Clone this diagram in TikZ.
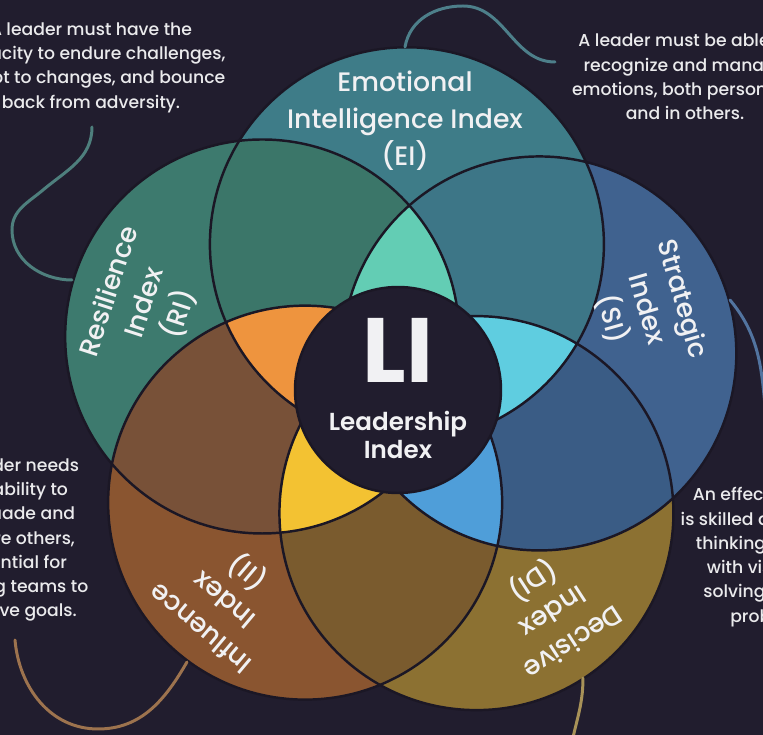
\documentclass[tikz,border=0pt]{standalone}
\usepackage{fontspec}
\setmainfont{Poppins}
\newfontfamily\medfont{Poppins Medium}
\newfontfamily\semifont{Poppins SemiBold}
\usetikzlibrary{positioning}

\definecolor{night}{HTML}{211D2E}
\definecolor{rim}{HTML}{1B1725}
\definecolor{ink}{HTML}{F1F1F3}
% one colour per ring
\definecolor{eiBase}{HTML}{3E7C88}
\definecolor{riBase}{HTML}{3D7A6E}
\definecolor{siBase}{HTML}{40628F}
\definecolor{diBase}{HTML}{8C7132}
\definecolor{iiBase}{HTML}{8A5530}
% neighbouring pairs
\definecolor{riEi}{HTML}{3B7669}
\definecolor{eiSi}{HTML}{3D7687}
\definecolor{siDi}{HTML}{3A5C85}
\definecolor{diIi}{HTML}{7A5B2E}
\definecolor{iiRi}{HTML}{785138}
% petals round the core
\definecolor{eiCore}{HTML}{63CDB4}
\definecolor{siCore}{HTML}{5FCDE0}
\definecolor{diCore}{HTML}{4F9ED9}
\definecolor{iiCore}{HTML}{F3C232}
\definecolor{riCore}{HTML}{EE943E}
% tails
\definecolor{riTail}{HTML}{4E7F7D}
\definecolor{eiTail}{HTML}{4D7F8A}
\definecolor{siTail}{HTML}{5274A0}
\definecolor{iiTail}{HTML}{9D734E}
\definecolor{diTail}{HTML}{A89258}

\def\rr{3.94}

\tikzset{
  rimline/.style={draw=rim, line width=1.4pt},
  ringlabel/.style={text=ink, align=center, inner sep=0pt,
    font=\medfont\fontsize{15.2}{21}\selectfont},
  note/.style={text=ink!94!gray, align=center, inner sep=0pt,
    font=\medfont\fontsize{9.8}{13.8}\selectfont},
  tail/.style={line width=1.7pt, line cap=round},
}

\begin{document}
\begin{tikzpicture}
  % Background
  \fill[night] (-7.96,-6.9) rectangle (7.30,7.80);
  \clip (-7.96,-6.9) rectangle (7.30,7.80);
  % Ring centres
  \coordinate (ei) at (86.5:2.92);
  \coordinate (si) at (14.5:2.92);
  \coordinate (di) at (-57.5:2.92);
  \coordinate (ii) at (-129.5:2.92);
  \coordinate (ri) at (158.5:2.92);
  % Single rings
  \fill[riBase] (ri) circle (\rr);
  \fill[iiBase] (ii) circle (\rr);
  \fill[diBase] (di) circle (\rr);
  \fill[siBase] (si) circle (\rr);
  \fill[eiBase] (ei) circle (\rr);
  % Overlap of neighbours
  \begin{scope} \clip (ri) circle (\rr); \fill[riEi] (ei) circle (\rr); \end{scope}
  \begin{scope} \clip (ei) circle (\rr); \fill[eiSi] (si) circle (\rr); \end{scope}
  \begin{scope} \clip (si) circle (\rr); \fill[siDi] (di) circle (\rr); \end{scope}
  \begin{scope} \clip (di) circle (\rr); \fill[diIi] (ii) circle (\rr); \end{scope}
  \begin{scope} \clip (ii) circle (\rr); \fill[iiRi] (ri) circle (\rr); \end{scope}
  % Petals (three rings)
  \begin{scope} \clip (ri) circle (\rr); \clip (si) circle (\rr); \fill[eiCore] (ei) circle (\rr); \end{scope}
  \begin{scope} \clip (ei) circle (\rr); \clip (di) circle (\rr); \fill[siCore] (si) circle (\rr); \end{scope}
  \begin{scope} \clip (si) circle (\rr); \clip (ii) circle (\rr); \fill[diCore] (di) circle (\rr); \end{scope}
  \begin{scope} \clip (di) circle (\rr); \clip (ri) circle (\rr); \fill[iiCore] (ii) circle (\rr); \end{scope}
  \begin{scope} \clip (ii) circle (\rr); \clip (ei) circle (\rr); \fill[riCore] (ri) circle (\rr); \end{scope}
  % Ring outlines
  \draw[rimline] (ri) circle (\rr);
  \draw[rimline] (ii) circle (\rr);
  \draw[rimline] (di) circle (\rr);
  \draw[rimline] (si) circle (\rr);
  \draw[rimline] (ei) circle (\rr);
  % Core
  \fill[night] (0,0) circle (2.06);
  \draw[rimline] (0,0) circle (2.06);
  \node[text=ink, inner sep=0pt, font=\bfseries\fontsize{52}{52}\selectfont] (li) at (0,0.8) {LI};
  \node[ringlabel, font=\semifont\fontsize{14}{15.5}\selectfont] (liname) at (0,-0.9) {Leadership\\Index};
  % Ring labels
  \node[ringlabel] (eilabel) at (0.14,5.38) {Emotional\\Intelligence Index\\(EI)};
  \node[ringlabel, rotate=72] (rilabel) at (-5.06,1.74) {Resilience\\Index\\(RI)};
  \node[ringlabel, rotate=-74] (silabel) at (18:5.22) {Strategic\\Index\\(SI)};
  \node[ringlabel, rotate=140] (iilabel) at (-3.46,-4.18) {Influence\\Index\\(II)};
  \node[ringlabel, rotate=213] (dilabel) at (305:5.38) {Decisive\\Index\\(DI)};
  % Notes
  \node[note] (rinote) at (-6.14,6.45) {A leader must have the\\capacity to endure challenges,\\adapt to changes, and bounce\\back from adversity.};
  \node[note] (einote) at (5.74,6.26) {A leader must be able to\\recognize and manage\\emotions, both personally\\and in others.};
  \node[note] (iinote) at (-7.68,-3.0) {A leader needs\\the ability to\\persuade and\\inspire others,\\essential for\\guiding teams to\\achieve goals.};
  \node[note] (sinote) at (7.52,-3.34) {An effective leader\\is skilled at analytical\\thinking, planning\\with vision, and\\solving complex\\problems.};
  % Tails from rings to notes
  \coordinate (riTop) at (-6.12,5.26);
  \coordinate (riEnd) at (-6.52,2.2);
  \draw[tail, riTail] (riTop) to[out=-90,in=40] (-7.1,4.0) to[out=220,in=90] (-7.72,3.2) to[out=-90,in=180] (riEnd);
  \coordinate (eiEnd) at (0.14,6.86);
  \coordinate (eiTop) at (3.14,6.56);
  \draw[tail, eiTail] (eiEnd) to[out=80,in=180] (1.3,7.68) to[out=0,in=180] (eiTop);
  \coordinate (siEnd) at (6.64,1.8);
  \coordinate (siLow) at (7.45,-1.2);
  \draw[tail, siTail] (siEnd) to[out=-50,in=100] (siLow);
  \coordinate (iiEnd) at (-4.22,-5.44);
  \coordinate (iiTop) at (-7.66,-5.0);
  \draw[tail, iiTail] (iiEnd) to[out=240,in=0] (-6.0,-6.78) to[out=180,in=-85] (iiTop);
  \coordinate (diEnd) at (3.7,-5.76);
  \coordinate (diLow) at (3.45,-7.2);
  \draw[tail, diTail] (diEnd) to[out=-90,in=80] (diLow);
\end{tikzpicture}
\end{document}
